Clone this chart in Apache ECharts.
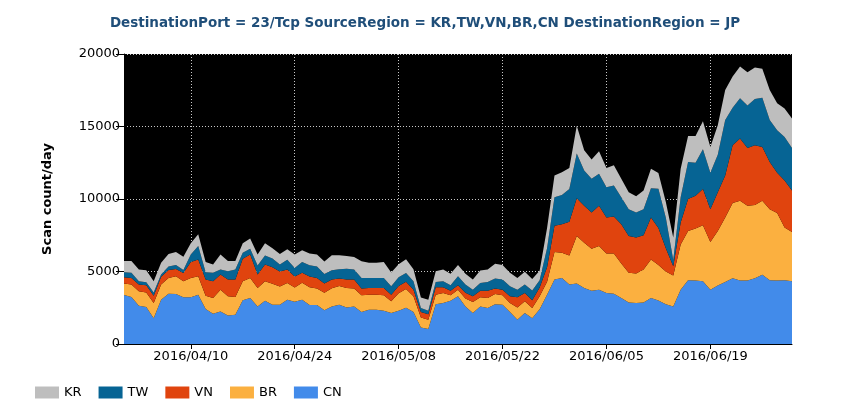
<!DOCTYPE html>
<html>
<head>
<meta charset="utf-8">
<script src="https://cdn.jsdelivr.net/npm/echarts@6/dist/echarts.min.js"></script>
<style>
  html, body { margin: 0; padding: 0; background: #fff; }
  #chart { width: 850px; height: 420px; }
</style>
</head>
<body>
<div id="chart"></div>
<script>
// 日付 2016/04/01 - 2016/06/30
var startDay = new Date(2016, 3, 1);
var dayCount = 91;
var dates = [];
for (var i = 0; i < dayCount; i++) {
	var d = new Date(startDay.getTime() + i * 86400000);
	var mm = ('0' + (d.getMonth() + 1)).slice(-2);
	var dd = ('0' + d.getDate()).slice(-2);
	dates.push(d.getFullYear() + '/' + mm + '/' + dd);
}

// x軸ラベル
var tickLabels = ['2016/04/10', '2016/04/24', '2016/05/08', '2016/05/22', '2016/06/05', '2016/06/19'];

// 国別スキャン数 (積み上げ順: CN が一番下)
var cn = [3380,3240,2640,2550,1780,3060,3470,3450,3220,3220,
	3400,2410,2080,2250,1970,2010,3010,3170,2590,2990,
	2710,2710,3060,2920,3060,2690,2690,2330,2590,2710,
	2520,2590,2200,2360,2360,2290,2130,2300,2500,2200,
	1130,1040,2750,2820,2990,3290,2590,2130,2590,2480,
	2750,2710,2200,1670,2130,1780,2400,3400,4440,4560,
	4100,4170,3870,3680,3750,3520,3470,3170,2870,2820,
	2870,3170,3000,2750,2590,3750,4400,4380,4330,3750,
	4030,4280,4540,4380,4380,4540,4770,4400,4380,4400,
	4330];
var br = [790,860,990,1010,1040,1040,1090,1230,1110,1340,
	1280,920,1090,1500,1320,1230,1320,1390,1270,1340,
	1440,1250,1150,980,1160,1230,1140,1210,1250,1290,
	1350,1230,1160,1040,1040,1070,810,1200,1300,1090,
	700,630,650,700,370,460,540,760,630,690,
	700,650,620,850,810,700,900,900,1900,1740,
	2010,3280,3120,2890,3010,2730,2780,2390,2040,2040,
	2270,2660,2450,2250,2130,3120,3400,3580,3860,3290,
	3770,4450,5180,5500,5160,5040,5110,4900,4650,3630,
	3400];
var vn = [440,460,470,490,510,530,540,500,570,1090,
	1150,1110,1160,1040,1150,1200,1550,1620,930,1160,
	1150,1040,930,750,690,740,730,640,600,520,
	570,620,460,470,470,510,460,500,500,460,
	370,390,510,390,320,300,400,400,460,510,
	370,390,470,700,580,540,600,1000,1810,1960,
	2320,2600,2550,2500,2780,2480,2550,2700,2540,2480,
	2360,2900,2550,1600,650,1510,2200,2270,2500,2260,
	2660,2890,3980,4290,3980,4120,3710,3250,2780,3240,
	2850];
var tw = [340,350,230,210,230,160,250,270,200,530,
	930,510,580,350,580,700,420,390,630,620,
	590,490,670,600,750,770,780,650,640,640,
	750,700,740,690,690,690,580,600,600,580,
	280,230,370,420,370,630,580,460,530,600,
	690,690,690,530,580,670,500,1300,1970,2020,
	2260,3080,2430,2320,2200,2080,2130,1860,1850,1730,
	1800,2010,2700,2100,420,1740,2550,2270,2740,2510,
	2600,3820,2600,2770,2920,3200,3400,2890,2940,3010,
	2940];
var kr = [770,810,810,830,770,810,850,890,920,760,
	810,700,580,1040,700,580,640,700,760,830,
	710,710,730,920,800,810,840,860,1040,960,
	880,860,1140,1040,1040,1090,950,900,950,820,
	720,760,740,810,790,760,740,690,860,860,
	1020,1000,930,810,880,790,650,1400,1500,1570,
	1440,1920,1390,1340,1550,1320,1390,1270,1160,1120,
	1280,1340,1100,1100,1550,1960,1800,1850,1940,1780,
	2030,2080,2150,2200,2310,2170,1990,2080,1850,1970,
	2040];

var seriesNames = ['CN', 'BR', 'VN', 'TW', 'KR'];
var seriesData = [cn, br, vn, tw, kr];
var seriesColors = ['#428bea', '#fbb040', '#e0440e', '#066494', '#bebebe'];

var isTick = function(index, value) {
	return tickLabels.indexOf(value) >= 0;
};

var font = 'DejaVu Sans';
var gridBox = { left: 124, right: 58, top: 54, bottom: 76 };
var myChart = echarts.init(document.getElementById('chart'));

var series = [];
for (var k = 0; k < seriesNames.length; k++) {
	series.push({
		name: seriesNames[k],
		type: 'line',
		stack: 'total',
		z: 3,
		data: seriesData[k],
		symbol: 'none',
		lineStyle: { width: 0 },
		itemStyle: { color: seriesColors[k] },
		areaStyle: { color: seriesColors[k], opacity: 1 }
	});
}

myChart.setOption({
	animation: false,
	// プロット領域の黒背景 (グリッド線の下)
	graphic: [{
		type: 'rect',
		z: -10,
		silent: true,
		shape: {
			x: gridBox.left,
			y: gridBox.top,
			width: 850 - gridBox.left - gridBox.right,
			height: 420 - gridBox.top - gridBox.bottom
		},
		style: { fill: '#000' }
	}],
	title: {
		text: 'DestinationPort = 23/Tcp SourceRegion = KR,TW,VN,BR,CN DestinationRegion = JP',
		left: 'center',
		top: 11,
		textStyle: { fontFamily: font, fontSize: 13.5, fontWeight: 'bold', color: '#1f4e79' }
	},
	legend: {
		data: ['KR', 'TW', 'VN', 'BR', 'CN'],
		left: 30,
		top: 381,
		icon: 'rect',
		itemWidth: 24,
		itemHeight: 12,
		itemGap: 17,
		textStyle: { fontFamily: font, fontSize: 13, color: '#000' }
	},
	grid: gridBox,
	xAxis: {
		type: 'category',
		z: 1,
		boundaryGap: false,
		data: dates,
		axisLine: { lineStyle: { color: '#000', width: 1 } },
		axisTick: { interval: isTick, length: 5, lineStyle: { color: '#000' } },
		axisLabel: { interval: isTick, color: '#000', fontFamily: font, fontSize: 13, margin: 6 },
		splitLine: { show: true, interval: isTick, lineStyle: { color: '#c8c8c8', type: [1, 2], width: 1 } }
	},
	yAxis: {
		type: 'value',
		z: 1,
		min: 0,
		max: 20000,
		interval: 5000,
		name: 'Scan count/day',
		nameLocation: 'middle',
		nameGap: 70,
		nameTextStyle: { fontFamily: font, fontSize: 13, fontWeight: 'bold', color: '#000' },
		axisLine: { show: true, lineStyle: { color: '#000', width: 1 } },
		axisTick: { show: true, length: 8, lineStyle: { color: '#000' } },
		axisLabel: {
			color: '#000', fontFamily: font, fontSize: 13, margin: 4,
			formatter: function(v) { return String(v); }
		},
		splitLine: { show: true, lineStyle: { color: '#c8c8c8', type: [1, 2], width: 1 } }
	},
	series: series
});
</script>
</body>
</html>
